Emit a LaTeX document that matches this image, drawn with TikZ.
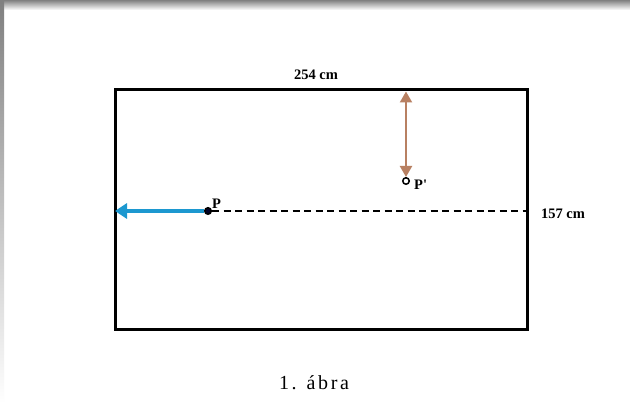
\documentclass[tikz,border=0pt]{standalone}
\usepackage{fontspec}
\setmainfont{Liberation Serif}
\usetikzlibrary{arrows.meta}
\definecolor{arrowblue}{RGB}{28,152,208}
\definecolor{arrowbrown}{RGB}{184,128,98}
\definecolor{shade}{RGB}{248,248,248}
\tikzset{
  lbl/.style={font=\bfseries\fontsize{14.5}{16}\selectfont, inner sep=1pt},
  dotmark/.style={circle, draw=black, line width=1.5pt, inner sep=0pt, minimum size=6.5pt},
}
\begin{document}
\begin{tikzpicture}[x=1pt,y=-1pt]
\useasboundingbox (0,0) rectangle (630,403);
\fill[white] (0,0) rectangle (630,403);
\fill[shade] (0,0) rectangle (630,10);
\fill[shade] (0,0) rectangle (4,403);
% coordinates
\coordinate (TL) at (115,90);
\coordinate (BR) at (527,330);
\coordinate (L) at (115,211);
\coordinate (R) at (527,211);
\coordinate (T) at (406,90);
% rectangle
\draw[line width=3pt] (TL) rectangle (BR);
% points
\node[dotmark, fill=black!85!blue] (P) at (208,211) {};
\node[dotmark, fill=white] (Pp) at (406,181) {};
% dashed
\draw[line width=1.8pt, dash pattern=on 7pt off 4.5pt] (P) -- (R);
% blue arrow
\draw[arrowblue, line width=4pt, -{Triangle[length=12pt,width=15pt]}] (P) -- (L);
% brown arrow
\draw[arrowbrown, line width=2.2pt, {Triangle[length=11pt,width=12pt]}-{Triangle[length=11pt,width=12pt]}, shorten <=1.5pt] (T) -- (Pp.north);
% labels
\node[lbl] (lw) at (316,75) {254 cm};
\node[lbl] (lh) at (563,214) {157 cm};
\node[lbl, anchor=south west] (lp) at (211,210) {P};
\node[lbl, anchor=west] (lpp) at (413,185) {P\textquotesingle};
\node[font=\fontsize{20}{22}\selectfont, inner sep=0pt] (cap) at (314,383) {\addfontfeature{LetterSpace=13}1. ábra};
\end{tikzpicture}
\end{document}
